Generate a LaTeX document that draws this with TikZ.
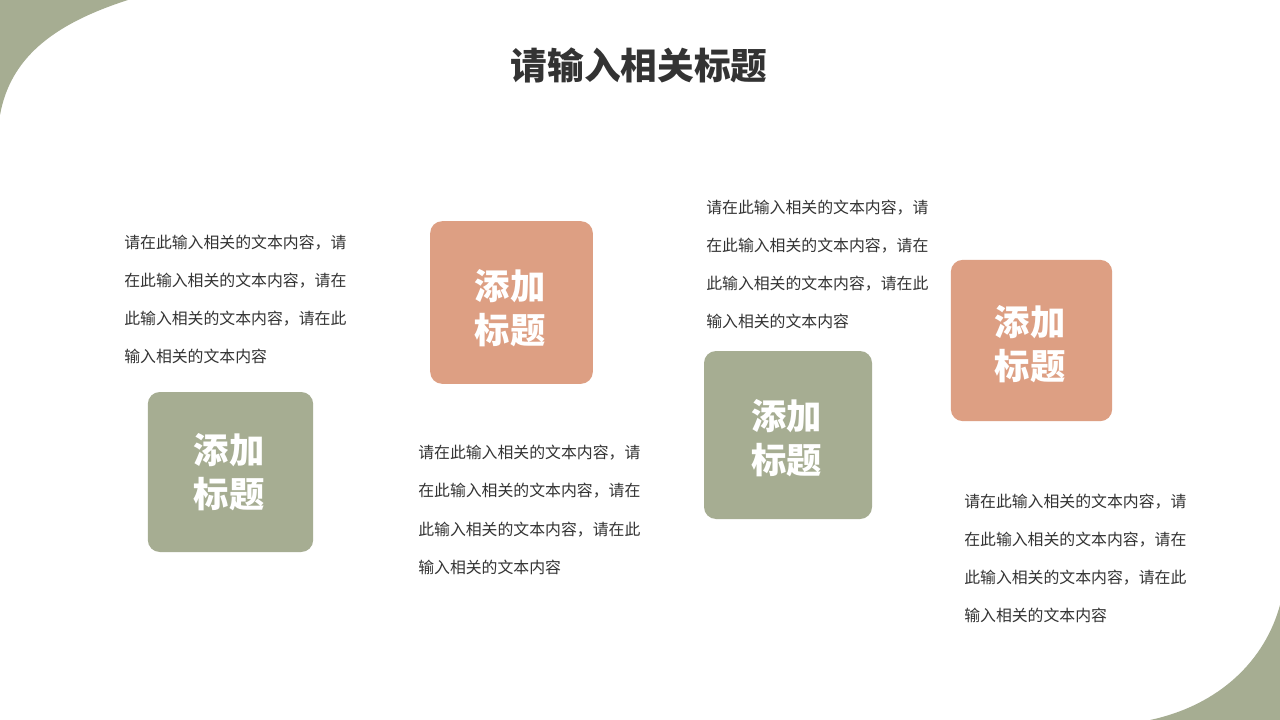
\documentclass[tikz,border=0pt]{standalone}
\usepackage{fontspec}
\usepackage{tikz}
\newfontfamily\cjk{Noto Sans CJK SC}
\definecolor{sage}{RGB}{166,173,146}
\definecolor{clay}{RGB}{221,159,131}
\definecolor{ink}{RGB}{51,51,51}
\tikzset{
  titlebox/.style={fill=#1,rounded corners=9pt,minimum width=123pt,minimum height=121pt},
  boxlabel/.style={text=white,align=center,inner sep=0pt,
    font=\cjk\bfseries\fontsize{26.5pt}{33pt}\selectfont},
  bodytext/.style={anchor=west,inner sep=0pt,align=left,text=ink,
    font=\cjk\fontsize{11.9pt}{28.7pt}\selectfont}
}

\begin{document}
\begin{tikzpicture}[x=0.75pt,y=-0.75pt]
\useasboundingbox (0,0) rectangle (1280,720);
\fill[white] (0,0) rectangle (1280,720);

% Corner shapes
\fill[sage] (0,0) -- (128,0) .. controls (50,25) and (10,60) .. (0,115) -- cycle;
\fill[sage] (1280,720) -- (1150,720) .. controls (1220,705) and (1265,660) .. (1280,605) -- cycle;

% Title
\node[text=ink,font=\cjk\bfseries\fontsize{27.5pt}{32pt}\selectfont] (title) at (639,65) {请输入相关标题};

% Boxes
\node[titlebox=sage,minimum width=124pt,minimum height=120pt] (boxA) at (230.5,472) {};
\node[titlebox=clay,minimum width=122pt,minimum height=122pt] (boxB) at (511.5,302.5) {};
\node[titlebox=sage,minimum width=126pt,minimum height=126pt] (boxC) at (788,435) {};
\node[titlebox=clay,minimum width=121pt,minimum height=121pt] (boxD) at (1031.5,340.5) {};
\foreach \boxname/\dy in {boxA/0.5,boxB/6,boxC/3,boxD/4}
{
    \node[boxlabel] (\boxname-label) at ([xshift=-1pt]\boxname.center) [yshift=-0.75*\dy pt] {添加\\标题};
}

% Text blocks
\foreach \name/\x/\y in {txtA/124/299.5, txtB/418/510, txtC/706/264.5, txtD/964/558.5}
{
    \node[bodytext] (\name) at (\x,\y) {请在此输入相关的文本内容，请\\在此输入相关的文本内容，请在\\此输入相关的文本内容，请在此\\输入相关的文本内容};
}
\end{tikzpicture}
\end{document}
